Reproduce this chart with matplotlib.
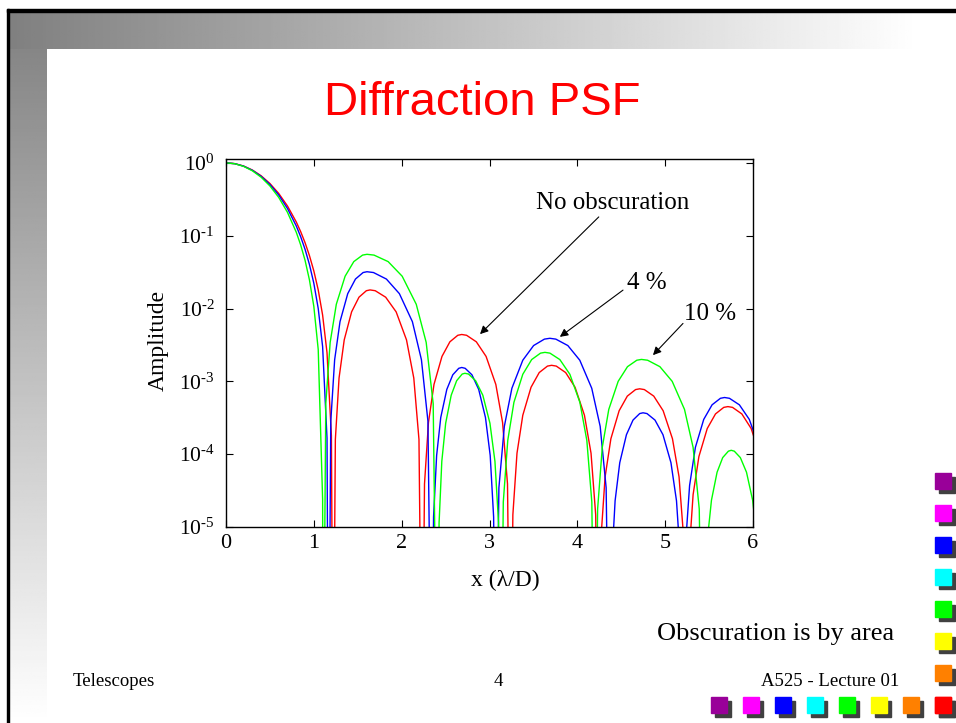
import numpy as np
import matplotlib
matplotlib.use("Agg")
import matplotlib.pyplot as plt
from matplotlib.patches import Rectangle
from matplotlib.ticker import NullLocator, FuncFormatter

# PSF curves (intensity vs x in lambda/D)
red_x = [0, 0.1, 0.2, 0.3, 0.4, 0.5, 0.6, 0.7, 0.8, 0.85, 0.9, 0.95, 1.0, 1.05, 1.1, 1.15, 1.2, 1.22,
         1.245, 1.287, 1.346, 1.43, 1.514, 1.598, 1.64, 1.699, 1.818, 1.937, 2.055, 2.138, 2.197, 2.233,
         2.26, 2.305, 2.368, 2.459, 2.549, 2.639, 2.684, 2.739, 2.85, 2.961, 3.072, 3.149, 3.205, 3.238,
         3.266, 3.313, 3.379, 3.473, 3.566, 3.66, 3.707, 3.76, 3.867, 3.974, 4.081, 4.156, 4.209, 4.241,
         4.269, 4.316, 4.382, 4.476, 4.569, 4.663, 4.71, 4.763, 4.87, 4.977, 5.083, 5.158, 5.211, 5.243,
         5.271, 5.318, 5.384, 5.479, 5.573, 5.667, 5.714, 5.767, 5.873, 5.979, 6.085]
red_y = [1.0, 0.9756, 0.9053, 0.7974, 0.6645, 0.5207, 0.3805, 0.2557, 0.1544, 0.1138, 0.0802, 0.0533, 0.0328, 0.018, 0.00813, 0.00248, 1.8e-4, 1e-8,
         1.59e-4, 1.11e-3, 3.71e-3, 9.0e-3, 1.43e-2, 1.756e-2, 1.8e-2, 1.756e-2, 1.43e-2, 9.0e-3, 3.71e-3, 1.11e-3, 1.59e-4, 1e-8,
         3.9e-5, 2.72e-4, 9.07e-4, 2.2e-3, 3.49e-3, 4.29e-3, 4.4e-3, 4.29e-3, 3.49e-3, 2.2e-3, 9.07e-4, 2.72e-4, 3.9e-5, 1e-8,
         1.47e-5, 1.03e-4, 3.42e-4, 8.3e-4, 1.32e-3, 1.62e-3, 1.66e-3, 1.62e-3, 1.32e-3, 8.3e-4, 3.42e-4, 1.03e-4, 1.47e-5, 1e-8,
         7.0e-6, 4.88e-5, 1.63e-4, 3.95e-4, 6.27e-4, 7.71e-4, 7.9e-4, 7.71e-4, 6.27e-4, 3.95e-4, 1.63e-4, 4.88e-5, 7.0e-6, 1e-8,
         4.0e-6, 2.78e-5, 9.27e-5, 2.25e-4, 3.57e-4, 4.39e-4, 4.5e-4, 4.39e-4, 3.57e-4, 2.25e-4, 9.27e-5]

blue_x = [0, 0.1, 0.2, 0.3, 0.4, 0.5, 0.6, 0.7, 0.8, 0.85, 0.9, 0.95, 1.0, 1.05, 1.1, 1.15, 1.167,
          1.193, 1.237, 1.298, 1.386, 1.474, 1.561, 1.605, 1.679, 1.826, 1.974, 2.122, 2.225, 2.299, 2.343,
          2.363, 2.398, 2.445, 2.514, 2.582, 2.65, 2.684, 2.723, 2.8, 2.877, 2.954, 3.008, 3.047, 3.07,
          3.107, 3.169, 3.255, 3.379, 3.502, 3.625, 3.687, 3.755, 3.892, 4.028, 4.164, 4.26, 4.328, 4.369,
          4.392, 4.43, 4.483, 4.559, 4.634, 4.71, 4.748, 4.793, 4.884, 4.975, 5.066, 5.129, 5.175, 5.202,
          5.23, 5.278, 5.344, 5.439, 5.534, 5.629, 5.676, 5.732, 5.845, 5.958, 6.071]
blue_y = [1.0, 0.9746, 0.9016, 0.7898, 0.6526, 0.5048, 0.362, 0.2363, 0.1361, 0.0969, 0.0651, 0.0402, 0.0222, 0.01, 0.003, 1.66e-4, 1e-8,
          2.84e-4, 1.98e-3, 6.6e-3, 0.016, 0.0254, 0.0312, 0.032, 0.0312, 0.0254, 0.016, 6.6e-3, 1.98e-3, 2.84e-4, 1e-8,
          1.37e-5, 9.58e-5, 3.19e-4, 7.75e-4, 1.23e-3, 1.51e-3, 1.55e-3, 1.51e-3, 1.23e-3, 7.75e-4, 3.19e-4, 9.58e-5, 1.37e-5, 1e-8,
          3.46e-5, 2.41e-4, 8.04e-4, 1.95e-3, 3.1e-3, 3.8e-3, 3.9e-3, 3.8e-3, 3.1e-3, 1.95e-3, 8.04e-4, 2.41e-4, 3.46e-5, 1e-8,
          3.3e-6, 2.29e-5, 7.63e-5, 1.85e-4, 2.94e-4, 3.61e-4, 3.7e-4, 3.61e-4, 2.94e-4, 1.85e-4, 7.63e-5, 2.29e-5, 3.3e-6, 1e-8,
          5.3e-6, 3.71e-5, 1.24e-4, 3.0e-4, 4.76e-4, 5.85e-4, 6.0e-4, 5.85e-4, 4.76e-4, 3.0e-4, 1.24e-4]

green_x = [0, 0.1, 0.2, 0.3, 0.4, 0.5, 0.6, 0.7, 0.8, 0.85, 0.9, 0.95, 1.0, 1.05, 1.1, 1.106,
           1.136, 1.186, 1.256, 1.356, 1.455, 1.555, 1.605, 1.685, 1.846, 2.006, 2.166, 2.279, 2.359, 2.407,
           2.426, 2.457, 2.501, 2.564, 2.626, 2.689, 2.72, 2.761, 2.842, 2.924, 3.005, 3.062, 3.103, 3.127,
           3.157, 3.208, 3.278, 3.379, 3.48, 3.581, 3.631, 3.688, 3.801, 3.915, 4.029, 4.108, 4.165, 4.199,
           4.231, 4.284, 4.358, 4.465, 4.571, 4.677, 4.73, 4.8, 4.94, 5.08, 5.22, 5.318, 5.388, 5.43,
           5.449, 5.482, 5.527, 5.591, 5.655, 5.72, 5.752, 5.787, 5.856, 5.926, 5.996, 6.044]
green_y = [1.0, 0.9731, 0.8961, 0.7785, 0.6349, 0.4817, 0.3355, 0.2092, 0.1116, 0.0747, 0.046, 0.0247, 0.0107, 0.00273, 2.4e-5, 1e-8,
           4.92e-4, 3.43e-3, 0.01144, 0.02775, 0.04407, 0.05414, 0.0555, 0.05414, 0.04407, 0.02775, 0.01144, 3.43e-3, 4.92e-4, 1e-8,
           1.14e-5, 7.97e-5, 2.66e-4, 6.45e-4, 1.02e-3, 1.26e-3, 1.29e-3, 1.26e-3, 1.02e-3, 6.45e-4, 2.66e-4, 7.97e-5, 1.14e-5, 1e-8,
           2.2e-5, 1.55e-4, 5.15e-4, 1.25e-3, 1.99e-3, 2.44e-3, 2.5e-3, 2.44e-3, 1.99e-3, 1.25e-3, 5.15e-4, 1.55e-4, 2.2e-5, 1e-8,
           1.77e-5, 1.24e-4, 4.12e-4, 1.0e-3, 1.59e-3, 1.95e-3, 2.0e-3, 1.95e-3, 1.59e-3, 1.0e-3, 4.12e-4, 1.24e-4, 1.77e-5, 1e-8,
           1.0e-6, 6.98e-6, 2.33e-5, 5.65e-5, 8.97e-5, 1.1e-4, 1.13e-4, 1.1e-4, 8.97e-5, 5.65e-5, 2.33e-5, 6.98e-6]

square_colors = ['#990099', '#FF00FF', '#0000FF', '#00FFFF', '#00FF00', '#FFFF00', '#FF8000', '#FF0000']

plt.rcParams['font.family'] = 'Liberation Serif'
plt.rcParams['mathtext.fontset'] = 'custom'
plt.rcParams['mathtext.rm'] = 'Liberation Serif'
plt.rcParams['axes.unicode_minus'] = False

W, H = 956, 723
fig = plt.figure(figsize=(W / 100, H / 100), dpi=100)

# slide background: gradient bands, black border, coloured squares
bg = fig.add_axes([0, 0, 1, 1])
bg.set_xlim(0, W)
bg.set_ylim(H, 0)
bg.axis('off')
left_grad = np.linspace(0.5, 1.0, 300).reshape(-1, 1)
bg.imshow(left_grad, cmap='gray', vmin=0, vmax=1, aspect='auto', extent=(9, 47, H, 12))
top_grad = np.clip(np.linspace(0.5, 1.02, 400), 0, 1).reshape(1, -1)
bg.imshow(top_grad, cmap='gray', vmin=0, vmax=1, aspect='auto', extent=(9, W, 49, 12))
bg.add_patch(Rectangle((7, 9), W - 7, 3, color='black'))
bg.add_patch(Rectangle((7, 9), 2.5, H - 9, color='black'))
for i, c in enumerate(square_colors):
    for (sx, sy) in [(935, 473 + 32 * i), (711 + 32 * i, 697)]:
        bg.add_patch(Rectangle((sx + 4, sy + 4), 16, 16, color='#404040'))
        bg.add_patch(Rectangle((sx, sy), 16, 16, color=c))
bg.set_xlim(0, W)
bg.set_ylim(H, 0)

fig.text(482 / W, 1 - 115 / H, 'Diffraction PSF', ha='center', va='baseline',
         color='#FF0000', fontsize=34, family='Liberation Sans')

ax = fig.add_axes([226 / W, 1 - 527 / H, 527 / W, 368 / H])
ax.plot(red_x, red_y, color='#FF0000', lw=1.0)
ax.plot(blue_x, blue_y, color='#0000FF', lw=1.0)
ax.plot(green_x, green_y, color='#00FF00', lw=1.0)
ax.set_yscale('log')
ax.set_xlim(0, 6)
ax.set_ylim(1e-5, 1.13)
ax.yaxis.set_minor_locator(NullLocator())


def decade(v, pos):
    e = int(round(np.log10(v)))
    return r'$\mathdefault{10^{\text{%d}}}$' % e


ax.yaxis.set_major_formatter(FuncFormatter(decade))
ax.tick_params(which='both', direction='in', top=True, right=True, length=5, width=0.8)
ax.tick_params(axis='x', labelsize=16, pad=5)
ax.tick_params(axis='y', labelsize=15.5, pad=8)
for s in ax.spines.values():
    s.set_linewidth(1.0)

arrow = dict(arrowstyle='-|>', color='black', lw=0.8, mutation_scale=12, shrinkA=0, shrinkB=0)
ax.annotate('', xy=(2.892, 0.00445), xytext=(4.244, 0.181), arrowprops=arrow)
ax.annotate('', xy=(3.801, 0.00408), xytext=(4.52, 0.0179), arrowprops=arrow)
ax.annotate('', xy=(4.861, 0.00229), xytext=(5.203, 0.00624), arrowprops=arrow)
ax.text(4.398, 0.231, 'No obscuration', ha='center', va='baseline', fontsize=18)
ax.text(4.786, 0.0183, '4 %', ha='center', va='baseline', fontsize=18)
ax.text(5.511, 0.00692, '10 %', ha='center', va='baseline', fontsize=18)

fig.text(158 / W, 1 - 340 / H, 'Amplitude', rotation=90, ha='center', va='center', fontsize=17)
fig.text(505 / W, 1 - 580 / H, 'x (\u03bb/D)', ha='center', va='center', fontsize=17)

fig.text(657 / W, 1 - 640 / H, 'Obscuration is by area', ha='left', va='baseline', fontsize=19)
fig.text(73 / W, 1 - 686 / H, 'Telescopes', ha='left', va='baseline', fontsize=13.5)
fig.text(498 / W, 1 - 686 / H, '4', ha='center', va='baseline', fontsize=13.5)
fig.text(899 / W, 1 - 686 / H, 'A525 - Lecture 01', ha='right', va='baseline', fontsize=13.5)

fig.savefig('out.png', dpi=100)
